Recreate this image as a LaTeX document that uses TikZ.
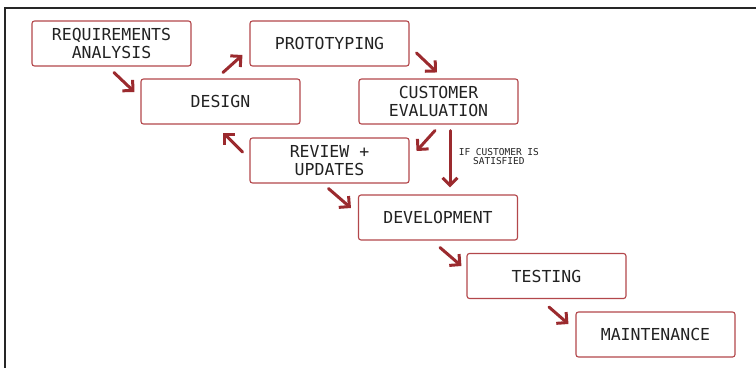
\documentclass[tikz,border=0pt]{standalone}
\usepackage{fontspec}
\setmonofont{DejaVu Sans Mono}
\usetikzlibrary{arrows.meta}
\definecolor{boxred}{HTML}{B3474B}
\definecolor{arrowred}{HTML}{9B2A2E}
\definecolor{txt}{HTML}{222222}
\tikzset{
  stage/.style={draw=boxred, line width=1.1pt, rounded corners=2.5pt, fill=white,
    minimum width=159pt, minimum height=45pt, inner sep=0pt,
    align=center, text=txt, font=\ttfamily\fontsize{16.5}{18}\selectfont},
  flow/.style={draw=arrowred, line width=3pt, line cap=round,
    -{Straight Barb[length=7.5pt,width=15pt,line width=3pt]}},
  note/.style={text=txt, align=center, font=\ttfamily\fontsize{9.5}{9}\selectfont}
}
\begin{document}
\begin{tikzpicture}[x=1pt,y=-1pt]
\useasboundingbox (0,0) rectangle (756,368);
% frame
\draw[line width=2pt, black!85] (756,8) -- (5,8) -- (5,368);

% stages
\node[stage] (req)    at (111.5,43.5) {REQUIREMENTS\\ANALYSIS};
\node[stage] (design) at (220.5,101.5) {DESIGN};
\node[stage] (proto)  at (329.5,43.5) {PROTOTYPING};
\node[stage] (cust)   at (438.5,101.5) {CUSTOMER\\EVALUATION};
\node[stage] (review) at (329.5,160.5) {REVIEW +\\UPDATES};
\node[stage] (dev)    at (438,217.5) {DEVELOPMENT};
\node[stage] (test)   at (546.5,276) {TESTING};
\node[stage] (maint)  at (655.5,334.5) {MAINTENANCE};

% connectors
\draw[flow] ([shift={(2.5,6)}]req.south)   -- ([shift={(-6,-9.5)}]design.west);
\draw[flow] ([shift={(2.5,-6)}]design.north) -- ([shift={(-7,11.5)}]proto.west);
\draw[flow] ([shift={(7,9.5)}]proto.east)  -- ([shift={(-1.5,-6)}]cust.north);
\draw[flow] ([shift={(-3.5,6)}]cust.south) -- ([shift={(7,-9.5)}]review.east);
\draw[flow] ([shift={(-7,-8.5)}]review.west) -- ([shift={(2.5,8)}]design.south);
\draw[flow] ([shift={(11.5,6)}]cust.south) -- node[note, right=4pt, pos=0.45] (cond) {IF CUSTOMER IS\\SATISFIED} ([shift={(12,-7)}]dev.north);
\draw[flow] ([shift={(-1,5)}]review.south) -- ([shift={(-7,-9.5)}]dev.west);
\draw[flow] ([shift={(2,7)}]dev.south)     -- ([shift={(-5,-10)}]test.west);
\draw[flow] ([shift={(2.5,8)}]test.south)  -- ([shift={(-7,-10.5)}]maint.west);
\end{tikzpicture}
\end{document}
